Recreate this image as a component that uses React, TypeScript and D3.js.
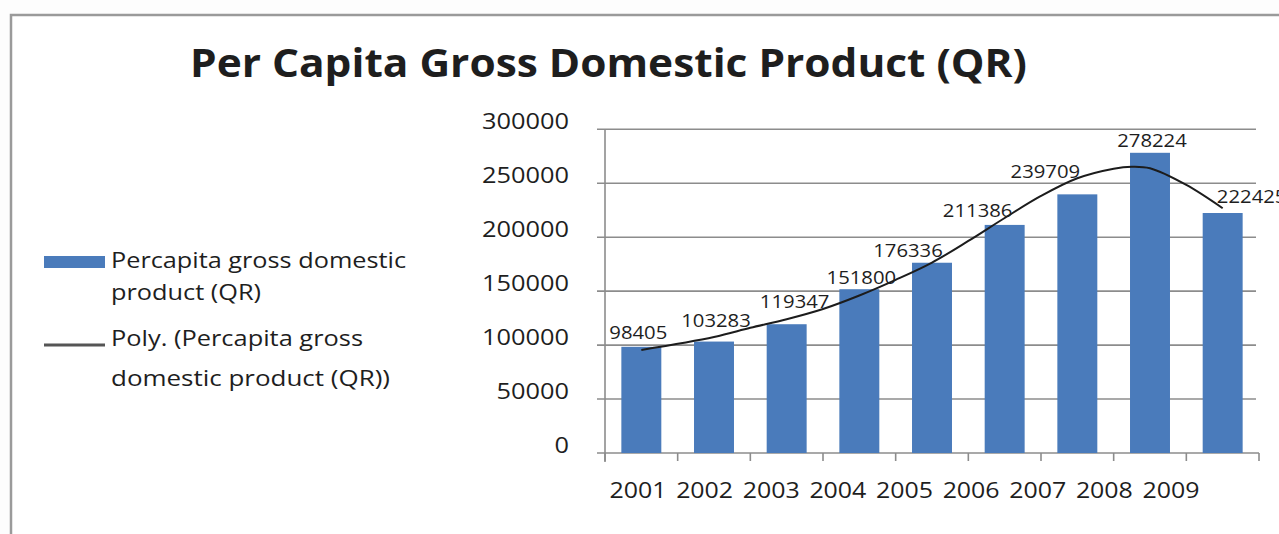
import React, { useEffect } from "react";
import * as d3 from "d3";

const years = ["2001", "2002", "2003", "2004", "2005", "2006", "2007", "2008", "2009"];
const gdpValues = [98405, 103283, 119347, 151800, 176336, 211386, 239709, 278224, 222425];
const yTicks = [0, 50000, 100000, 150000, 200000, 250000, 300000];
// polynomial trendline (year, value)
const trendYears = [2001, 2002, 2002.5, 2003, 2003.5, 2004, 2004.5, 2005, 2005.5, 2006, 2006.5, 2007, 2007.5, 2007.75, 2008, 2008.5, 2009];
const trendValues = [95500, 107500, 116000, 124000, 133500, 146000, 160500, 176500, 196500, 217800, 238200, 254600, 263500, 265300, 263900, 248400, 226800];
// data-label placement nudges (dx, dy from bar top)
const labelDx = [-3, 2, 8, 2, -24, -27, -32, 2, 29];
const labelDy = [-8, -15, -16, -5, -6, -8, -16, -6, -10];

const title = "Per Capita Gross Domestic Product (QR)";
const legendBarLines = ["Percapita gross domestic", "product (QR)"];
const legendLineLines = ["Poly. (Percapita gross", "domestic product (QR))"];

const W = 1279;
const H = 534;
const FONT = "'Open Sans', 'DejaVu Sans', sans-serif";
const TEXT = "#1e1e1e";

export default function App() {
  useEffect(() => {
    document.body.style.margin = "0";
  }, []);

  const x = d3.scaleBand<string>().domain(years).range([605, 1259]).paddingInner(0.45).paddingOuter(0.225);
  const y = d3.scaleLinear().domain([0, 300000]).range([453, 129.3]);
  const xLabel = d3.scalePoint<string>().domain(years).range([638, 1171]);
  const xYear = d3.scaleLinear().domain([2001, 2009]).range([
    (x("2001") as number) + x.bandwidth() / 2,
    (x("2009") as number) + x.bandwidth() / 2,
  ]);
  const trendLine = d3
    .line<number>()
    .x((_, i) => xYear(trendYears[i]))
    .y((d) => y(d))
    .curve(d3.curveCatmullRom.alpha(0.5));

  const step = x.step();
  const boundaries = d3.range(years.length + 1).map((i) => 605 + i * step);

  return (
    <svg width={W} height={H} style={{ position: "fixed", left: 0, top: 0, display: "block", background: "#fff" }}>
      <rect x={0} y={0} width={W} height={H} fill="#fdfdfd" />
      {/* frame */}
      <rect x={11} y={15} width={W + 20} height={H + 20} fill="#fff" stroke="#9a9a9a" strokeWidth={2.5} />

      {/* title */}
      <text x={190} y={77} fontFamily={FONT} fontWeight={700} fontSize={38.5} fill={TEXT} textLength={837} lengthAdjust="spacingAndGlyphs">
        {title}
      </text>

      {/* gridlines */}
      {yTicks.map((t) => (
        <g key={t}>
          <line x1={597} x2={t === 0 ? 1259 : 1256} y1={y(t)} y2={y(t)} stroke="#8c8c8c" strokeWidth={1.6} />
          <text x={569} y={y(t)} textAnchor="end" fontFamily={FONT} fontSize={21} fill={TEXT} textLength={String(t).length * 14.5} lengthAdjust="spacingAndGlyphs">
            {t}
          </text>
        </g>
      ))}
      {/* y axis */}
      <line x1={605} x2={605} y1={y(300000)} y2={462} stroke="#8c8c8c" strokeWidth={1.6} />
      {/* x tick marks */}
      {boundaries.map((b, i) => (
        <line key={i} x1={b} x2={b} y1={453} y2={461} stroke="#8c8c8c" strokeWidth={1.6} />
      ))}

      {/* bars */}
      {gdpValues.map((v, i) => (
        <rect key={years[i]} x={x(years[i])} y={y(v)} width={x.bandwidth()} height={y(0) - y(v)} fill="#4a7bbb" />
      ))}

      {/* trendline */}
      <path d={trendLine(trendValues) || ""} fill="none" stroke="#1c1c1c" strokeWidth={2} />

      {/* data labels */}
      {gdpValues.map((v, i) => (
        <text
          key={"l" + i}
          x={(x(years[i]) as number) + x.bandwidth() / 2 + labelDx[i]}
          y={y(v) + labelDy[i]}
          textAnchor="middle"
          fontFamily={FONT}
          fontSize={18.6}
          fill={TEXT}
          textLength={String(v).length * 11.6}
          lengthAdjust="spacingAndGlyphs"
        >
          {v}
        </text>
      ))}

      {/* year labels */}
      {years.map((yr) => (
        <text key={"y" + yr} x={xLabel(yr)} y={498} textAnchor="middle" fontFamily={FONT} fontSize={21.7} fill={TEXT} textLength={57} lengthAdjust="spacingAndGlyphs">
          {yr}
        </text>
      ))}

      {/* legend */}
      <rect x={44} y={256} width={61} height={12} fill="#4a7bbb" />
      <text x={111} y={268} fontFamily={FONT} fontSize={21} fill={TEXT} textLength={295} lengthAdjust="spacingAndGlyphs">
        {legendBarLines[0]}
      </text>
      <text x={111} y={300} fontFamily={FONT} fontSize={21} fill={TEXT} textLength={150} lengthAdjust="spacingAndGlyphs">
        {legendBarLines[1]}
      </text>
      <line x1={44} x2={105} y1={345} y2={345} stroke="#555" strokeWidth={3} />
      <text x={111} y={345.5} fontFamily={FONT} fontSize={21} fill={TEXT} textLength={252} lengthAdjust="spacingAndGlyphs">
        {legendLineLines[0]}
      </text>
      <text x={111} y={385.5} fontFamily={FONT} fontSize={21} fill={TEXT} textLength={279} lengthAdjust="spacingAndGlyphs">
        {legendLineLines[1]}
      </text>
    </svg>
  );
}
